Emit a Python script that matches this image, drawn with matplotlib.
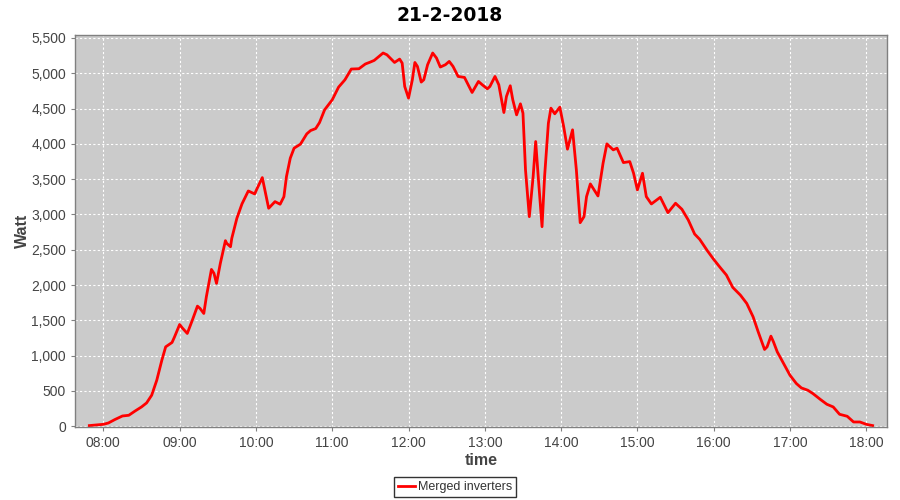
import matplotlib
matplotlib.use("Agg")
import matplotlib.pyplot as plt
import matplotlib.dates as mdates
from matplotlib.ticker import FuncFormatter, MultipleLocator
import pandas as pd

title = "21-2-2018"
series_name = "Merged inverters"
x_label = "time"
y_label = "Watt"

# minutes after midnight
minutes = [469, 480, 484, 489, 495, 500, 505, 510, 514, 518, 522, 526, 529, 534, 536,
           540, 542, 546, 550, 554, 556, 559, 561, 565, 567, 569, 572, 576, 577, 580,
           581, 585, 589, 594, 599, 601, 605, 607, 610, 615, 619, 622, 624, 627, 630,
           635, 640, 643, 647, 650, 654, 660, 665, 670, 675, 681, 686, 690, 693, 700,
           703, 709, 713, 715, 717, 720, 723, 725, 727, 730, 732, 735, 739, 742, 745,
           749, 752, 755, 759, 764, 770, 775, 778, 782, 784, 788, 791, 795, 797, 800,
           802, 805, 808, 810, 812, 815, 818, 820, 822, 825, 827, 830, 832, 835, 839,
           842, 845, 849, 852, 855, 858, 860, 863, 869, 873, 876, 881, 884, 889, 894,
           897, 900, 904, 907, 911, 918, 924, 930, 935, 940, 945, 949, 955, 960, 965,
           970, 975, 981, 986, 991, 995, 1000, 1002, 1005, 1007, 1010, 1015, 1020, 1025, 1029,
           1034, 1038, 1044, 1049, 1054, 1059, 1065, 1070, 1075, 1080, 1085]
watts = [10, 28, 47, 95, 146, 156, 217, 274, 331, 440, 652, 936, 1125, 1187, 1267,
         1442, 1395, 1315, 1504, 1702, 1670, 1598, 1834, 2222, 2166, 2024, 2308, 2629, 2591, 2543,
         2662, 2946, 3149, 3333, 3291, 3371, 3522, 3348, 3088, 3182, 3145, 3252, 3536, 3797, 3939,
         3996, 4142, 4189, 4217, 4302, 4482, 4624, 4804, 4908, 5060, 5064, 5131, 5159, 5182, 5287,
         5262, 5153, 5201, 5144, 4813, 4648, 4908, 5153, 5097, 4875, 4908, 5121, 5287, 5216, 5088,
         5121, 5168, 5097, 4955, 4941, 4728, 4884, 4837, 4780, 4813, 4955, 4837, 4444, 4671, 4823,
         4624, 4411, 4567, 4435, 3631, 2969, 3536, 4033, 3536, 2827, 3536, 4294, 4506, 4426, 4520,
         4246, 3925, 4199, 3631, 2884, 2969, 3253, 3433, 3262, 3726, 4000, 3915, 3939, 3735, 3749,
         3584, 3348, 3584, 3253, 3149, 3244, 3026, 3159, 3074, 2922, 2723, 2648, 2487, 2364, 2251,
         2142, 1967, 1858, 1740, 1550, 1338, 1088, 1125, 1277, 1196, 1054, 889, 723, 606, 543,
         511, 464, 379, 312, 274, 170, 142, 61, 61, 28, 10]

day = pd.Timestamp("2018-02-21")
times = [day + pd.Timedelta(minutes=m) for m in minutes]

fig = plt.figure(figsize=(9, 5), dpi=100)
fig.patch.set_facecolor("white")
ax = fig.add_axes([75/900, 1-427/500, (887-75)/900, (427-35)/500])
ax.set_facecolor("#cbcbcb")

line, = ax.plot(times, watts, color="#ff0000", lw=2.0, solid_joinstyle="round")

ax.set_xlim(day + pd.Timedelta(minutes=457.7), day + pd.Timedelta(minutes=1096.3))
ax.set_ylim(-10, 5542)

ax.xaxis.set_major_locator(mdates.HourLocator())
ax.xaxis.set_major_formatter(mdates.DateFormatter("%H:%M"))
ax.yaxis.set_major_locator(MultipleLocator(500))
ax.yaxis.set_major_formatter(FuncFormatter(lambda v, p: f"{int(v):,}"))

ax.grid(True, color="white", lw=0.8, linestyle=(0, (2, 2)))
ax.set_axisbelow(True)
for s in ax.spines.values():
    s.set_color("#808080")
    s.set_linewidth(1.0)

ax.tick_params(axis="both", colors="#808080", length=3, width=0.8, direction="out",
               labelcolor="#444444", labelsize=10)
for lab in ax.get_xticklabels() + ax.get_yticklabels():
    lab.set_family("Liberation Sans")

ax.set_xlabel(x_label, fontsize=11.5, fontweight="bold", color="#444444",
              family="Liberation Sans", labelpad=2)
ax.set_ylabel(y_label, fontsize=11.5, fontweight="bold", color="#444444",
              family="Liberation Sans", labelpad=1)

fig.text(0.5, 1 - 20.7/500, title, ha="center", va="baseline", fontsize=13.5,
         fontweight="bold", color="black", family="DejaVu Sans")

leg = fig.legend([line], [series_name], loc="center", bbox_to_anchor=(455/900, 1 - 487/500),
                 frameon=True, fancybox=False, handlelength=1.4,
                 handletextpad=0.2, borderpad=0.3, borderaxespad=0,
                 prop={"family": "Liberation Sans", "size": 9})
leg.get_frame().set_edgecolor("black")
leg.get_frame().set_linewidth(1.0)
for t in leg.get_texts():
    t.set_color("#333333")

fig.savefig("out.png", dpi=100)
